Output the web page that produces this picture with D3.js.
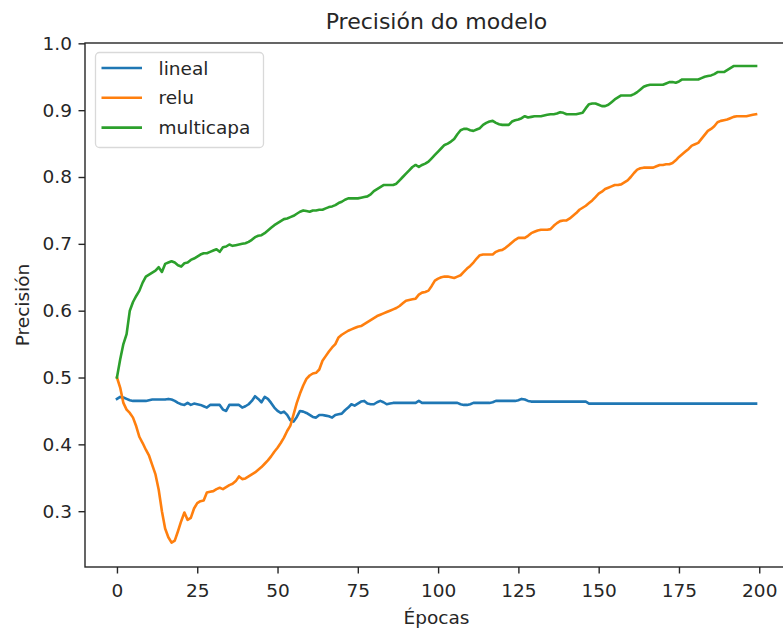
<!DOCTYPE html>
<html>
<head>
<meta charset="utf-8">
<script src="https://cdn.jsdelivr.net/npm/d3@7"></script>
<style>
  body { margin: 0; background: #fff; }
  svg { font-family: "DejaVu Sans", sans-serif; display: block; }
</style>
</head>
<body>
<svg id="chart" width="783" height="630"></svg>
<script>
// precision per epoch
const lineal = [
  0.468, 0.471, 0.470, 0.468, 0.466, 0.465, 0.465, 0.465, 0.465, 0.465,
  0.466, 0.467, 0.467, 0.467, 0.467, 0.467, 0.468, 0.467, 0.465, 0.462,
  0.460, 0.459, 0.462, 0.459, 0.461, 0.460, 0.459, 0.457, 0.455, 0.459,
  0.459, 0.459, 0.459, 0.452, 0.450, 0.459, 0.459, 0.459, 0.459, 0.455,
  0.457, 0.460, 0.465, 0.472, 0.468, 0.463, 0.471, 0.468, 0.462, 0.455,
  0.450, 0.447, 0.449, 0.444, 0.436, 0.434, 0.441, 0.450, 0.449, 0.447,
  0.444, 0.441, 0.440, 0.444, 0.444, 0.443, 0.442, 0.440, 0.444, 0.445,
  0.446, 0.451, 0.455, 0.460, 0.458, 0.461, 0.464, 0.465, 0.461, 0.460,
  0.460, 0.463, 0.465, 0.463, 0.460, 0.461, 0.462, 0.462, 0.462, 0.462,
  0.462, 0.462, 0.462, 0.462, 0.465, 0.462, 0.462, 0.462, 0.462, 0.462,
  0.462, 0.462, 0.462, 0.462, 0.462, 0.462, 0.462, 0.460, 0.459, 0.459,
  0.460, 0.462, 0.462, 0.462, 0.462, 0.462, 0.462, 0.463, 0.465, 0.465,
  0.465, 0.465, 0.465, 0.465, 0.465, 0.466, 0.468, 0.467, 0.465, 0.464,
  0.464, 0.464, 0.464, 0.464, 0.464, 0.464, 0.464, 0.464, 0.464, 0.464,
  0.464, 0.464, 0.464, 0.464, 0.464, 0.464, 0.464, 0.461, 0.461, 0.461,
  0.461, 0.461, 0.461, 0.461, 0.461, 0.461, 0.461, 0.461, 0.461, 0.461,
  0.461, 0.461, 0.461, 0.461, 0.461, 0.461, 0.461, 0.461, 0.461, 0.461,
  0.461, 0.461, 0.461, 0.461, 0.461, 0.461, 0.461, 0.461, 0.461, 0.461,
  0.461, 0.461, 0.461, 0.461, 0.461, 0.461, 0.461, 0.461, 0.461, 0.461,
  0.461, 0.461, 0.461, 0.461, 0.461, 0.461, 0.461, 0.461, 0.461, 0.461
];

const relu = [
  0.500, 0.485, 0.462, 0.452, 0.447, 0.440, 0.427, 0.411, 0.402, 0.392,
  0.383, 0.369, 0.355, 0.332, 0.300, 0.274, 0.261, 0.253, 0.256, 0.270,
  0.285, 0.298, 0.287, 0.290, 0.304, 0.312, 0.315, 0.316, 0.328, 0.329,
  0.330, 0.333, 0.335, 0.333, 0.336, 0.339, 0.341, 0.345, 0.352, 0.348,
  0.349, 0.352, 0.355, 0.358, 0.362, 0.366, 0.371, 0.376, 0.382, 0.389,
  0.395, 0.402, 0.410, 0.420, 0.428, 0.445, 0.462, 0.476, 0.488, 0.498,
  0.503, 0.506, 0.507, 0.512, 0.525, 0.532, 0.539, 0.545, 0.550, 0.560,
  0.564, 0.567, 0.570, 0.572, 0.574, 0.576, 0.577, 0.580, 0.583, 0.586,
  0.589, 0.592, 0.594, 0.596, 0.598, 0.600, 0.602, 0.604, 0.607, 0.611,
  0.615, 0.616, 0.617, 0.618, 0.624, 0.627, 0.628, 0.630, 0.637, 0.645,
  0.648, 0.650, 0.651, 0.651, 0.650, 0.649, 0.651, 0.653, 0.658, 0.663,
  0.667, 0.672, 0.678, 0.683, 0.684, 0.684, 0.684, 0.684, 0.688, 0.690,
  0.691, 0.694, 0.698, 0.702, 0.706, 0.709, 0.709, 0.709, 0.712, 0.716,
  0.718, 0.720, 0.721, 0.721, 0.721, 0.722, 0.727, 0.731, 0.734, 0.735,
  0.735, 0.738, 0.742, 0.746, 0.751, 0.754, 0.757, 0.761, 0.765, 0.770,
  0.775, 0.778, 0.782, 0.784, 0.786, 0.788, 0.788, 0.789, 0.792, 0.795,
  0.800, 0.806, 0.811, 0.813, 0.814, 0.814, 0.814, 0.814, 0.816, 0.818,
  0.818, 0.819, 0.819, 0.821, 0.825, 0.830, 0.834, 0.838, 0.842, 0.847,
  0.849, 0.851, 0.857, 0.863, 0.869, 0.872, 0.876, 0.882, 0.884, 0.885,
  0.886, 0.888, 0.890, 0.891, 0.891, 0.891, 0.891, 0.892, 0.893, 0.894
];

const multicapa = [
  0.500, 0.527, 0.550, 0.565, 0.600, 0.613, 0.622, 0.630, 0.642, 0.651,
  0.654, 0.657, 0.660, 0.665, 0.658, 0.670, 0.672, 0.674, 0.672, 0.668,
  0.666, 0.671, 0.672, 0.676, 0.678, 0.681, 0.684, 0.686, 0.686, 0.688,
  0.690, 0.692, 0.688, 0.695, 0.696, 0.699, 0.697, 0.698, 0.699, 0.700,
  0.701, 0.703, 0.706, 0.710, 0.712, 0.713, 0.716, 0.720, 0.724, 0.728,
  0.731, 0.734, 0.737, 0.738, 0.740, 0.742, 0.745, 0.748, 0.750, 0.749,
  0.748, 0.750, 0.750, 0.751, 0.751, 0.753, 0.755, 0.756, 0.758, 0.761,
  0.763, 0.766, 0.768, 0.768, 0.768, 0.768, 0.769, 0.770, 0.771, 0.774,
  0.779, 0.782, 0.785, 0.788, 0.788, 0.788, 0.788, 0.790, 0.795, 0.800,
  0.805, 0.810, 0.815, 0.818, 0.815, 0.818, 0.820, 0.823, 0.828, 0.833,
  0.838, 0.843, 0.848, 0.850, 0.853, 0.857, 0.864, 0.870, 0.872, 0.872,
  0.870, 0.869, 0.871, 0.873, 0.878, 0.881, 0.883, 0.884, 0.881, 0.879,
  0.878, 0.878, 0.878, 0.883, 0.885, 0.886, 0.888, 0.891, 0.889, 0.890,
  0.891, 0.891, 0.891, 0.892, 0.893, 0.894, 0.894, 0.895, 0.897, 0.896,
  0.894, 0.894, 0.894, 0.894, 0.895, 0.896, 0.903, 0.909, 0.910, 0.910,
  0.908, 0.906, 0.906, 0.908, 0.912, 0.916, 0.919, 0.922, 0.922, 0.922,
  0.922, 0.924, 0.927, 0.931, 0.935, 0.937, 0.938, 0.938, 0.938, 0.938,
  0.938, 0.940, 0.942, 0.942, 0.941, 0.943, 0.946, 0.946, 0.946, 0.946,
  0.946, 0.946, 0.948, 0.950, 0.951, 0.952, 0.954, 0.957, 0.957, 0.957,
  0.960, 0.963, 0.966, 0.966, 0.966, 0.966, 0.966, 0.966, 0.966, 0.966
];

const seriesNames = ['lineal', 'relu', 'multicapa'];
const seriesColors = ['#1f77b4', '#ff7f0e', '#2ca02c'];
const xTicks = [0, 25, 50, 75, 100, 125, 150, 175, 200];
const yTicks = [0.3, 0.4, 0.5, 0.6, 0.7, 0.8, 0.9, 1.0];

const svg = d3.select('#chart');
const margin = {left: 85, top: 43, bottom: 63};
const plotW = 703, plotH = 630 - margin.top - margin.bottom;
const fontSize = 18.5;
const ink = '#262626';

const series = [lineal, relu, multicapa].map((vals, k) => ({
  name: seriesNames[k],
  color: seriesColors[k],
  values: vals.map((v, i) => ({epoch: i, acc: v}))
}));

// matplotlib style 5% margins
const xScale = d3.scaleLinear().domain([-9.95, 208.95]).range([0, plotW]);
const yScale = d3.scaleLinear().domain([0.2165, 1.0005]).range([plotH, 0]);

const g = svg.append('g').attr('transform', `translate(${margin.left},${margin.top})`);

g.append('clipPath').attr('id', 'clip')
  .append('rect').attr('width', plotW).attr('height', plotH);

const line = d3.line()
  .x(d => xScale(d.epoch))
  .y(d => yScale(d.acc));

g.append('g').attr('clip-path', 'url(#clip)')
  .selectAll('path')
  .data(series)
  .enter()
  .append('path')
    .attr('d', d => line(d.values))
    .attr('fill', 'none')
    .attr('stroke', d => d.color)
    .attr('stroke-width', 2.6)
    .attr('stroke-linejoin', 'round')
    .attr('stroke-linecap', 'square');

// axes
const xAxis = d3.axisBottom(xScale).tickValues(xTicks).tickSize(6.5).tickPadding(10.5).tickFormat(d3.format('d'));
const yAxis = d3.axisLeft(yScale).tickValues(yTicks).tickSize(6.5).tickPadding(6.5).tickFormat(d3.format('.1f'));

g.append('g')
  .attr('transform', `translate(0,${plotH})`)
  .call(xAxis)
  .call(s => s.select('.domain').remove());

g.append('g')
  .call(yAxis)
  .call(s => s.select('.domain').remove());

g.selectAll('.tick text').attr('font-size', fontSize).attr('fill', ink).attr('font-family', '"DejaVu Sans", sans-serif');
g.selectAll('.tick line').attr('stroke', ink).attr('stroke-width', 1.4);

// spines
g.append('rect')
  .attr('x', 0).attr('y', 0)
  .attr('width', plotW).attr('height', plotH)
  .attr('fill', 'none')
  .attr('stroke', ink)
  .attr('stroke-width', 1.4);

// title and labels
svg.append('text')
  .attr('x', margin.left + plotW / 2).attr('y', 29)
  .attr('text-anchor', 'middle')
  .attr('font-size', 22)
  .attr('fill', ink)
  .text('Precisión do modelo');

svg.append('text')
  .attr('x', margin.left + plotW / 2).attr('y', 624)
  .attr('text-anchor', 'middle')
  .attr('font-size', fontSize)
  .attr('fill', ink)
  .text('Épocas');

svg.append('text')
  .attr('transform', `translate(29,${margin.top + plotH / 2}) rotate(-90)`)
  .attr('text-anchor', 'middle')
  .attr('font-size', fontSize)
  .attr('fill', ink)
  .text('Precisión');

// legend
const legend = g.append('g').attr('transform', 'translate(10.5,9.5)');
legend.append('rect')
  .attr('width', 168).attr('height', 95)
  .attr('rx', 4)
  .attr('fill', '#fff').attr('fill-opacity', 0.8)
  .attr('stroke', '#d9d9d9').attr('stroke-width', 1.3);

const item = legend.selectAll('.item')
  .data(series)
  .enter()
  .append('g')
    .attr('transform', (d, i) => `translate(0,${15.5 + i * 29.8})`);

item.append('line')
  .attr('x1', 6).attr('x2', 46.5)
  .attr('stroke', d => d.color)
  .attr('stroke-width', 2.6);

item.append('text')
  .attr('x', 63).attr('y', 6.5)
  .attr('font-size', fontSize)
  .attr('fill', ink)
  .text(d => d.name);
</script>
</body>
</html>
